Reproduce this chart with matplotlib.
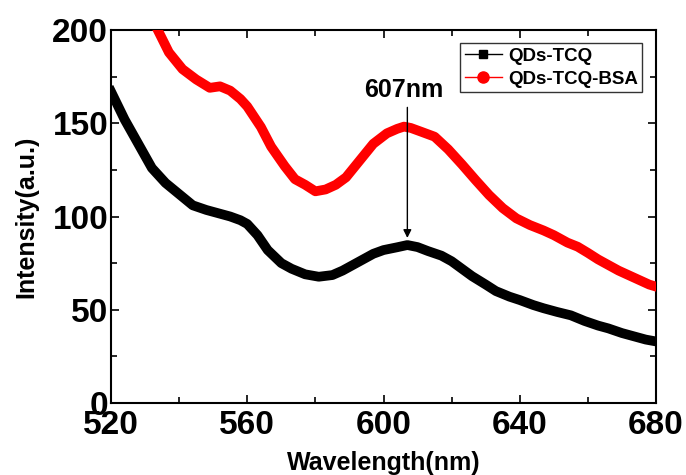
import matplotlib.pyplot as plt
import numpy as np
from matplotlib.ticker import MultipleLocator

plt.rcParams['font.family'] = ['Liberation Sans', 'DejaVu Sans']
plt.rcParams['font.weight'] = 'bold'

# QDs-TCQ (black)
wl_tcq = [520, 524, 528, 532, 536, 540, 544, 548, 552, 555, 558, 560, 563, 566,
          570, 573, 577, 581, 585, 588, 591, 594, 597, 600, 604, 607, 610, 613,
          617, 620, 623, 626, 630, 633, 637, 640, 644, 647, 651, 655, 659, 663,
          666, 670, 674, 677, 680]
int_tcq = [167, 152, 139, 126, 118, 112, 106, 103.5, 101.5, 100, 98, 96, 90, 82,
           75, 72, 69, 67.7, 68.6, 71, 74, 77, 80, 82, 83.5, 84.7, 83.6, 81.5,
           79, 76, 72, 68, 63.5, 60, 57, 55.2, 52.5, 50.8, 48.8, 47, 44, 41.5,
           40, 37.5, 35.5, 34, 33]

# QDs-TCQ-BSA (red)
wl_bsa = [531, 534, 537, 541, 545, 549, 552, 555, 558, 560, 564, 567, 571, 574,
          577, 580, 583, 586, 589, 593, 597, 601, 604, 606, 608, 611, 615, 619,
          623, 627, 631, 635, 639, 643, 647, 650, 654, 657, 660, 663, 666, 669,
          672, 675, 678, 680]
int_bsa = [210, 199, 188, 179, 173.5, 169, 169.8, 167.5, 163, 159, 148, 137.5, 127, 120,
           117, 113.5, 114.5, 117, 121, 130, 139, 144.6, 147, 148.2, 147.5, 145.5, 142.8, 136,
           128, 119.6, 111.5, 104.5, 99, 95.4, 92.5, 90, 86, 83.8, 80.5, 77, 74, 71,
           68.5, 66, 63.5, 62.4]

peak_wl = 607
peak_label = '607nm'

fig = plt.figure(figsize=(6.86, 4.75), dpi=100)
ax = fig.add_axes([0.1618, 0.1516, 0.7945, 0.7852])

ax.plot(wl_tcq, int_tcq, color='black', lw=7, solid_joinstyle='round', zorder=3)
ax.plot(wl_bsa, int_bsa, color='red', lw=7, solid_joinstyle='round', zorder=3)

# legend proxies (thin line with marker)
ax.plot([], [], color='black', lw=1, marker='s', ms=6, label='QDs-TCQ')
ax.plot([], [], color='red', lw=1, marker='o', ms=8, label='QDs-TCQ-BSA')

ax.set_xlim(520, 680)
ax.set_ylim(0, 200)
ax.xaxis.set_major_locator(MultipleLocator(40))
ax.xaxis.set_minor_locator(MultipleLocator(20))
ax.yaxis.set_major_locator(MultipleLocator(50))
ax.yaxis.set_minor_locator(MultipleLocator(25))
ax.tick_params(which='both', direction='in', top=True, right=True,
               width=1.2, labelsize=24)
ax.tick_params(axis='x', pad=5)
ax.tick_params(axis='y', pad=2)
ax.tick_params(which='major', length=6)
ax.tick_params(which='minor', length=4)
for lab in ax.get_xticklabels() + ax.get_yticklabels():
    lab.set_fontweight('bold')
for s in ax.spines.values():
    s.set_linewidth(1.5)

ax.set_xlabel('Wavelength(nm)', fontsize=18, fontweight='bold', labelpad=7)
ax.set_ylabel('Intensity(a.u.)', fontsize=18, fontweight='bold', labelpad=10)

ax.annotate('', xy=(peak_wl, 87), xytext=(peak_wl, 160),
            arrowprops=dict(arrowstyle='-|>', color='black', lw=1,
                            mutation_scale=12), zorder=4)
ax.text(peak_wl - 1, 168, peak_label, fontsize=18, fontweight='bold',
        ha='center', va='center')

leg = ax.legend(loc='upper right', bbox_to_anchor=(0.975, 0.965), fontsize=13.5,
                frameon=True, fancybox=False, edgecolor='black',
                handlelength=2.0, handletextpad=0.3, borderpad=0.25,
                labelspacing=0.3, borderaxespad=0)
leg.get_frame().set_linewidth(1)
for t in leg.get_texts():
    t.set_fontweight('bold')

fig.savefig('out.png', dpi=100)
